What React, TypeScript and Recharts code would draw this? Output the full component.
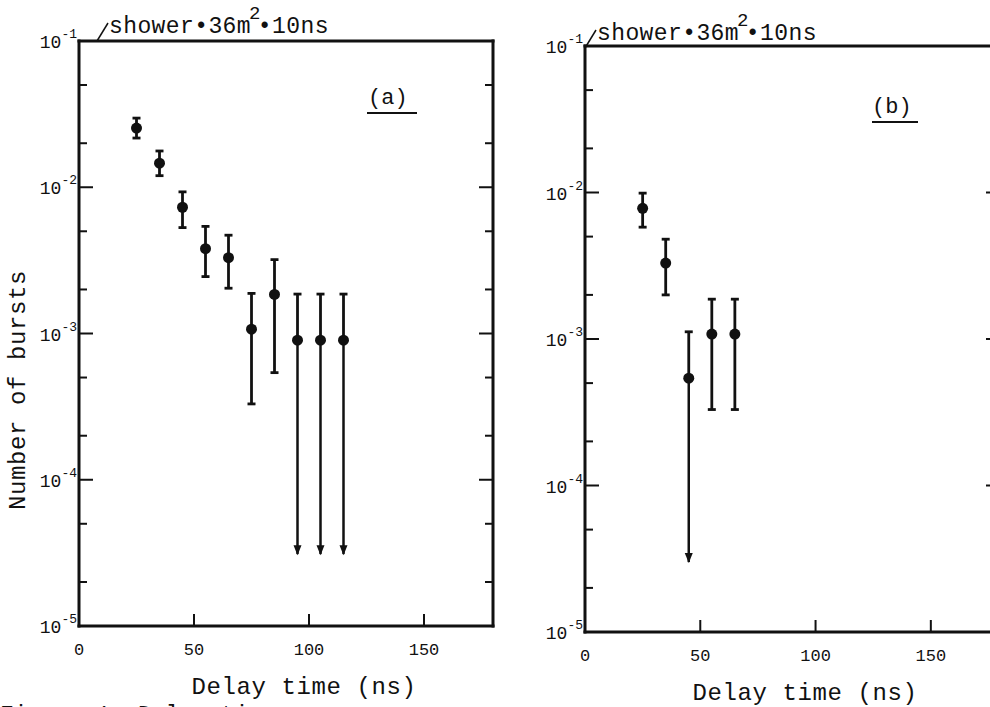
import React from "react";
import { ScatterChart, Scatter, XAxis, YAxis, ErrorBar } from "recharts";

// delay time bins (ns) and burst rates
const delayA = [25, 35, 45, 55, 65, 75, 85, 95, 105, 115];
const burstsA = [0.0254, 0.0146, 0.0073, 0.0038, 0.0033, 0.00107, 0.00185, 0.0009, 0.0009, 0.0009];
const upperA = [0.0297, 0.0177, 0.0093, 0.0054, 0.0047, 0.00188, 0.0032, 0.00186, 0.00186, 0.00186];
const lowerA = [0.0217, 0.012, 0.0053, 0.00245, 0.00204, 0.00033, 0.00054, 3.1e-5, 3.1e-5, 3.1e-5];
const limitA = [false, false, false, false, false, false, false, true, true, true];

const delayB = [25, 35, 45, 55, 65];
const burstsB = [0.0078, 0.0033, 0.00054, 0.00108, 0.00108];
const upperB = [0.0099, 0.0048, 0.00112, 0.00187, 0.00187];
const lowerB = [0.0058, 0.002, 3.0e-5, 0.00033, 0.00033];
const limitB = [false, false, true, false, false];

const xTicks = [0, 50, 100, 150];
const xTopTicks = [50, 100, 150];
const yTicks = [1e-5, 2e-5, 5e-5, 1e-4, 2e-4, 5e-4, 1e-3, 2e-3, 5e-3, 1e-2, 2e-2, 5e-2, 1e-1];

const FONT = '"Liberation Mono", "DejaVu Sans Mono", monospace';
const INK = "#111";

function buildRows(xs: number[], ys: number[], hi: number[], lo: number[]) {
  return xs.map((x, i) => ({
    x,
    y: ys[i],
    tip: lo[i],
    err: [ys[i] - lo[i], hi[i] - ys[i]],
    up: [0, hi[i] - ys[i]],
    down: [ys[i] - lo[i], 0],
  }));
}

const isMajor = (v: number) => Math.abs(Math.log10(v) - Math.round(Math.log10(v))) < 1e-6;

function LeftTick({ x, y, payload }: any) {
  const v = payload.value;
  const major = isMajor(v);
  const exp = Math.round(Math.log10(v));
  return (
    <g>
      <line x1={x} y1={y} x2={x + (major ? 14 : 8)} y2={y} stroke={INK} strokeWidth={2} />
      {major && (
        <text x={x - 2} y={y + 7} textAnchor="end" fontFamily={FONT} fontSize={18} fill={INK}>
          10
          <tspan dy={-10} fontSize={13}>{`-${-exp}`}</tspan>
        </text>
      )}
    </g>
  );
}

function RightTick({ x, y, payload }: any) {
  const major = isMajor(payload.value);
  return <line x1={x} y1={y} x2={x - (major ? 14 : 8)} y2={y} stroke={INK} strokeWidth={2} />;
}

function BottomTick({ x, y, payload }: any) {
  return (
    <g>
      <line x1={x} y1={y} x2={x} y2={y - 12} stroke={INK} strokeWidth={2} />
      <text x={x} y={y + 29} textAnchor="middle" fontFamily={FONT} fontSize={17} fill={INK}>
        {payload.value}
      </text>
    </g>
  );
}

function TopTick({ x, y }: any) {
  return <line x1={x} y1={y} x2={x} y2={y + 8} stroke={INK} strokeWidth={2} />;
}

function AxisText({ px, py, text, rotate }: any) {
  return (
    <text
      transform={`translate(${px},${py})${rotate ? " rotate(-90)" : ""}`}
      textAnchor="middle"
      fontFamily={FONT}
      fontSize={24}
      letterSpacing={0.6}
      fill={INK}
    >
      {text}
    </text>
  );
}

const dot = (p: any) => <circle cx={p.cx} cy={p.cy} r={5.5} fill={INK} />;
const arrow = (p: any) => (
  <polygon
    points={`${p.cx - 4},${p.cy - 9} ${p.cx + 4},${p.cy - 9} ${p.cx},${p.cy + 1}`}
    fill={INK}
  />
);

const axisLine = { stroke: INK, strokeWidth: 3, strokeLinecap: "square" as const };

function Panel({ rows, limits, margin, xLabel, yLabel }: any) {
  return (
    <ScatterChart width={520} height={707} margin={margin}>
      <XAxis
        dataKey="x"
        type="number"
        domain={[0, 180]}
        ticks={xTicks}
        interval={0}
        allowDataOverflow
        height={40}
        tickSize={0}
        tickMargin={0}
        tickLine={false}
        axisLine={axisLine}
        tick={<BottomTick />}
        label={xLabel}
      />
      <XAxis
        xAxisId="top"
        orientation="top"
        type="number"
        domain={[0, 180]}
        ticks={xTopTicks}
        interval={0}
        allowDataOverflow
        height={10}
        tickSize={0}
        tickMargin={0}
        tickLine={false}
        axisLine={axisLine}
        tick={<TopTick />}
      />
      <YAxis
        dataKey="y"
        type="number"
        scale="log"
        domain={[1e-5, 1e-1]}
        ticks={yTicks}
        interval={0}
        allowDataOverflow
        width={60}
        tickSize={0}
        tickMargin={0}
        tickLine={false}
        axisLine={axisLine}
        tick={<LeftTick />}
        label={yLabel}
      />
      <YAxis
        yAxisId="right"
        orientation="right"
        type="number"
        scale="log"
        domain={[1e-5, 1e-1]}
        ticks={yTicks}
        interval={0}
        allowDataOverflow
        width={10}
        tickSize={0}
        tickMargin={0}
        tickLine={false}
        axisLine={axisLine}
        tick={<RightTick />}
      />
      <Scatter data={rows} shape={dot} isAnimationActive={false}>
        <ErrorBar dataKey="err" direction="y" width={4} strokeWidth={2.8} stroke={INK} isAnimationActive={false} />
      </Scatter>
      <Scatter data={limits} shape={dot} isAnimationActive={false}>
        <ErrorBar dataKey="up" direction="y" width={4} strokeWidth={2.8} stroke={INK} isAnimationActive={false} />
        <ErrorBar dataKey="down" direction="y" width={0} strokeWidth={2.5} stroke={INK} isAnimationActive={false} />
      </Scatter>
      <Scatter
        data={limits.map((r: any) => ({ x: r.x, y: r.tip }))}
        shape={arrow}
        isAnimationActive={false}
      />
    </ScatterChart>
  );
}

function Unit({ x, y }: { x: number; y: number }) {
  return (
    <g fontFamily={FONT} fill={INK}>
      <line x1={x} y1={y + 8} x2={x + 11} y2={y - 10} stroke={INK} strokeWidth={1.5} />
      <text x={x + 12} y={y} fontSize={23} letterSpacing={0.4}>
        shower•36m
        <tspan dx={-2} dy={-14} fontSize={19}>2</tspan>
        <tspan dx={-3} dy={14}>•10ns</tspan>
      </text>
    </g>
  );
}

export default function App() {
  const rowsA = buildRows(delayA, burstsA, upperA, lowerA);
  const rowsB = buildRows(delayB, burstsB, upperB, lowerB);
  return (
    <div
      style={{
        position: "absolute",
        left: 0,
        top: 0,
        width: 990,
        height: 707,
        overflow: "hidden",
        background: "#fff",
      }}
    >
      <div style={{ position: "absolute", left: 0, top: 0 }}>
        <Panel
          rows={rowsA.filter((_, i) => !limitA[i])}
          limits={rowsA.filter((_, i) => limitA[i])}
          margin={{ top: 31, right: 17, bottom: 41, left: 19 }}
          xLabel={<AxisText px={304} py={694} text="Delay time (ns)" />}
          yLabel={<AxisText px={25} py={390} text="Number of bursts" rotate />}
        />
      </div>
      <div style={{ position: "absolute", left: 500, top: 0 }}>
        <Panel
          rows={rowsB.filter((_, i) => !limitB[i])}
          limits={rowsB.filter((_, i) => limitB[i])}
          margin={{ top: 36, right: 10, bottom: 35, left: 25 }}
          xLabel={<AxisText px={305} py={700} text="Delay time (ns)" />}
          yLabel={null}
        />
      </div>
      <svg
        width={990}
        height={707}
        style={{ position: "absolute", left: 0, top: 0, pointerEvents: "none" }}
      >
        <Unit x={97} y={33} />
        <Unit x={585} y={40} />
        <text x={368} y={104} fontFamily={FONT} fontSize={22} fill={INK}>(a)</text>
        <line x1={367} y1={113} x2={417} y2={113} stroke={INK} strokeWidth={2} />
        <text x={872} y={113} fontFamily={FONT} fontSize={22} fill={INK}>(b)</text>
        <line x1={872} y1={122} x2={918} y2={122} stroke={INK} strokeWidth={2} />
        <text x={0} y={722} fontFamily={FONT} fontSize={23} fill={INK}>Figure 1. Delay time</text>
      </svg>
    </div>
  );
}
